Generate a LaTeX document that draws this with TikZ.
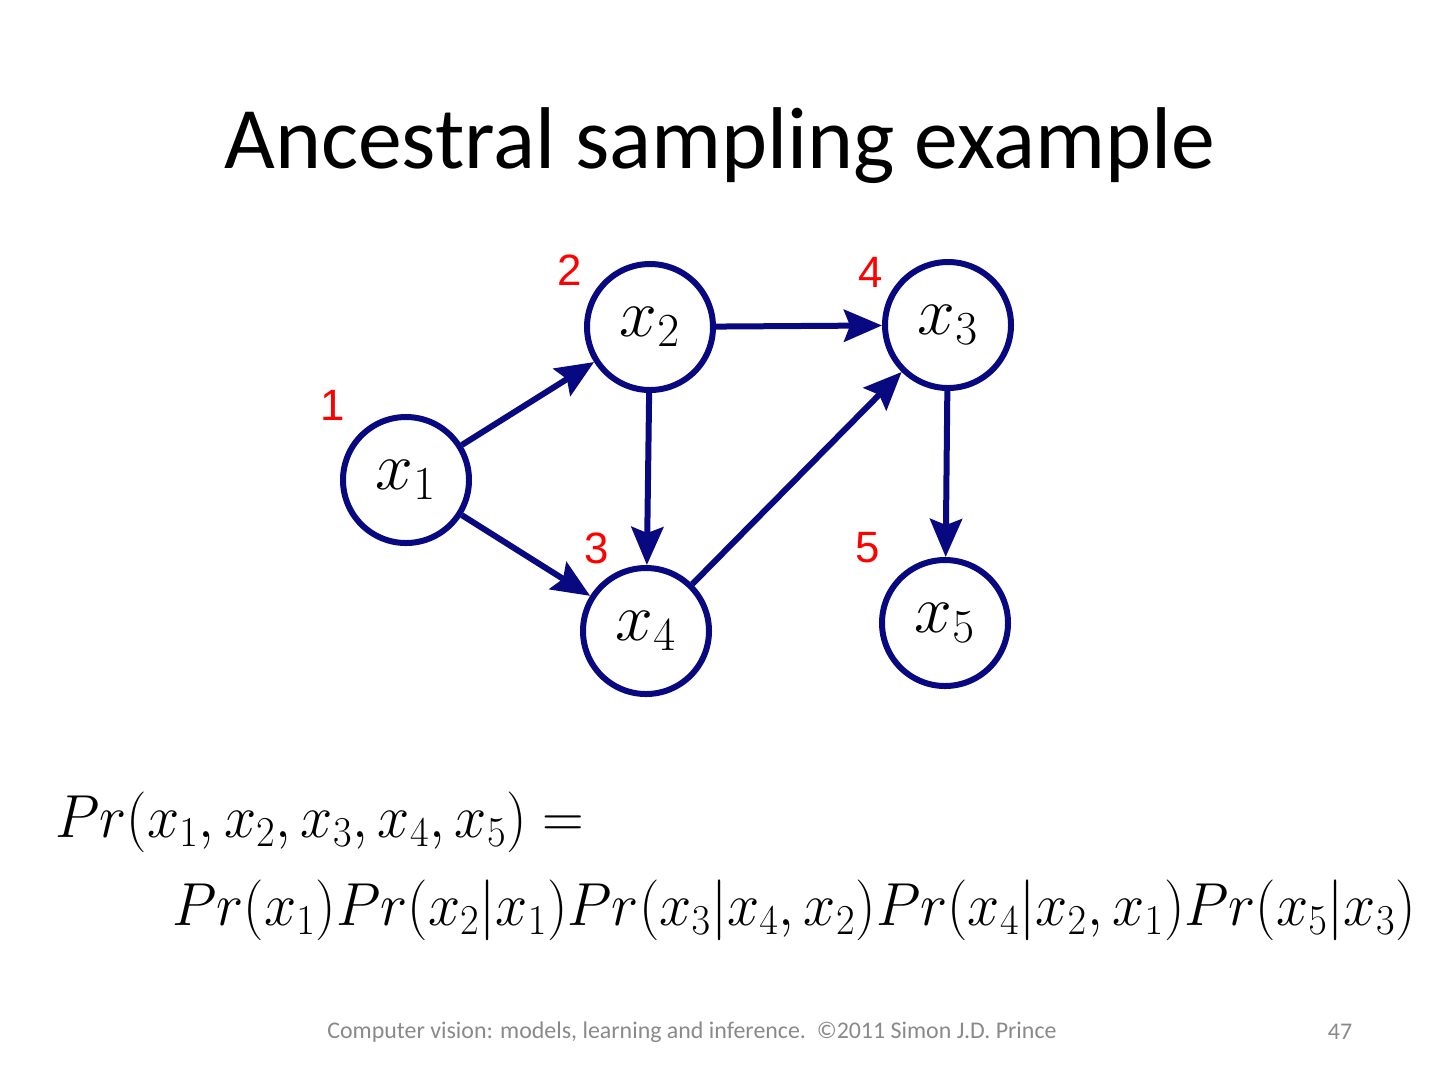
\RequirePackage{fix-cm}
\documentclass[tikz,border=0pt]{standalone}
\usepackage[no-math]{fontspec}
\setmainfont{Carlito}
\newfontfamily\arialfont{Liberation Sans}
\usepackage{tikz}
\usetikzlibrary{positioning,arrows.meta}
\definecolor{nodeblue}{RGB}{8,8,128}
\definecolor{orderred}{RGB}{255,0,0}
\definecolor{footgray}{RGB}{137,137,137}

\begin{document}
\begin{tikzpicture}[
    x=0.5bp, y=-0.5bp,
    var/.style={
        circle,
        draw=nodeblue,
        line width=3bp,
        minimum size=63bp,
        inner sep=0pt,
        font=\fontsize{34}{40}\selectfont
    },
    order/.style={
        text=orderred,
        font=\arialfont\fontsize{22}{26}\selectfont
    },
    link/.style={
        draw=nodeblue,
        line width=3bp,
        -{Stealth[length=19bp,width=16bp,inset=3bp]}
    },
    formula/.style={
        anchor=west,
        inner sep=0pt,
        font=\fontsize{30.5}{36}\selectfont
    },
    foot/.style={
        text=footgray,
        font=\fontsize{12}{14}\selectfont
    }
]
\useasboundingbox (0,0) rectangle (1440,1080);

% title
\node[font=\fontsize{44}{52}\selectfont] (title) at (720,146) {Ancestral sampling example};

% graph
\node[var] (x1) at (406,480) {$x_1$};
\node[var] (x2) at (650,327) {$x_2$};
\node[var] (x3) at (948,325) {$x_3$};
\node[var] (x4) at (646,631) {$x_4$};
\node[var] (x5) at (945,623) {$x_5$};

% sampling order
\node[order] (n1) at (333,405) {1};
\node[order] (n2) at (570,270) {2};
\node[order] (n3) at (597,548) {3};
\node[order] (n4) at (871,272) {4};
\node[order] (n5) at (868,548) {5};

\draw[link] (x1) -- (x2);
\draw[link] (x1) -- (x4);
\draw[link] (x2) -- (x3);
\draw[link] (x2) -- (x4);
\draw[link] (x4) -- (x3);
\draw[link] (x3) -- (x5);

% factorisation
\node[formula] (joint) at (55,822) {\scalebox{0.95}[1]{$Pr(x_1,x_2,x_3,x_4,x_5) =$}};
\node[formula] (factors) at (172,910) {\scalebox{0.95}[1]{$Pr(x_1)Pr(x_2|x_1)Pr(x_3|x_4,x_2)Pr(x_4|x_2,x_1)Pr(x_5|x_3)$}};

% footer
\node[foot] (credit) at (692,1032) {Computer vision: models, learning and inference.\ \ ©2011 Simon J.D. Prince};
\node[foot] (page) at (1340,1032) {47};

\end{tikzpicture}
\end{document}
